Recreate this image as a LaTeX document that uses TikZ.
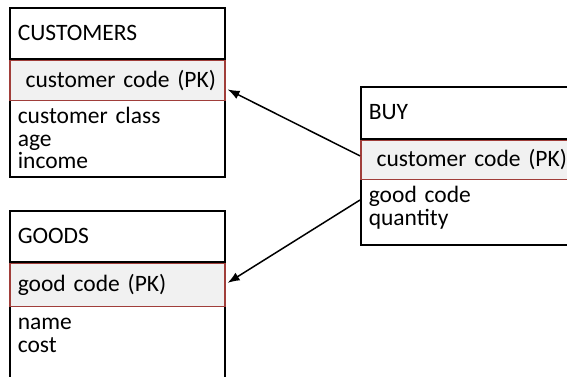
\documentclass[tikz,border=0pt]{standalone}
\usepackage{fontspec}
\setmainfont{Carlito}
\usetikzlibrary{arrows.meta}
\definecolor{pkred}{RGB}{160,62,58}
\definecolor{pkfill}{RGB}{241,241,241}

\begin{document}
\begin{tikzpicture}[x=1pt, y=-1pt,
        tblcell/.style={draw=black, line width=1.6pt, anchor=north west, minimum width=215pt,
            text width=199pt, inner xsep=8pt, align=left, font=\fontsize{23.5pt}{22.5pt}\selectfont},
        tblhead/.style={tblcell, text height=14pt, text depth=0pt},
        tblpk/.style={tblcell, draw=pkred, fill=pkfill, text height=14pt, text depth=0pt},
        tblattr/.style={tblcell, inner ysep=7pt, text height=18pt},
        fkarrow/.style={line width=1.5pt, -{Latex[length=12pt, width=9pt]}}]
            \useasboundingbox (0,0) rectangle (567,376);
            \clip (0,0) rectangle (567,376);
                \node[tblhead, minimum height=51pt] (cust) at (9,7) {CUSTOMERS};
                \node[tblattr, text depth=46pt] (custattr) at (9,98) {customer class\\age\\income};
                \node[tblpk, minimum height=40pt] (custpk) at (cust.south west) {\ customer code (PK)};
                \node[tblhead, minimum height=51pt] (goods) at (9,210) {GOODS};
                \node[tblattr, text depth=58pt] (goodsattr) at (9,304) {name\\cost};
                \node[tblpk, minimum height=43pt] (goodspk) at (goods.south west) {good code (PK)};
                \node[tblhead, minimum height=52pt] (buy) at (360,86) {BUY};
                \node[tblattr, text depth=35pt] (buyattr) at (360,177) {good code\\quantity};
                \node[tblpk, minimum height=39pt] (buypk) at (buy.south west) {\ customer code (PK)};
                \draw[fkarrow] ([yshift=4pt]buypk.west) -- ([xshift=2pt, yshift=-9pt]custpk.east);
                \draw[fkarrow] ([yshift=-23pt]buyattr.north west) -- ([xshift=2pt, yshift=2pt]goodspk.east);
            \end{tikzpicture}
\end{document}
